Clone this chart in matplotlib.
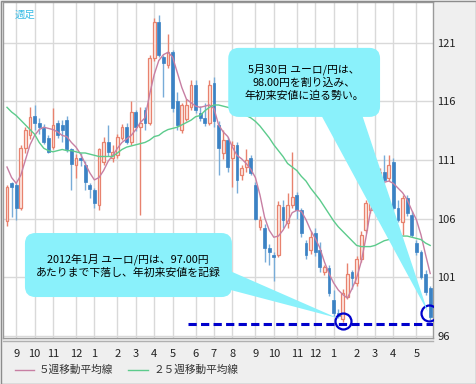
import numpy as np
import pandas as pd
import matplotlib
matplotlib.use("Agg")
import matplotlib.pyplot as plt
from matplotlib.patches import FancyBboxPatch, Polygon, Rectangle
from matplotlib.lines import Line2D

plt.rcParams['font.family'] = ['Noto Sans CJK JP', 'DejaVu Sans']

# 週足 EUR/JPY (2010/8/23 - 2012/5/28)
weeks = pd.date_range('2010-08-23', periods=93, freq='W-MON')

opens = [105.8, 109.0, 108.9, 106.9, 112.0, 113.1, 114.8, 114.2, 113.7, 112.9,
         112.1, 114.2, 114.0, 114.4, 111.9, 110.6, 111.2, 110.6, 108.9, 108.4,
         107.15, 110.8, 112.5, 111.2, 111.4, 112.9, 113.8, 112.5, 115.1, 113.8,
         115.3, 114.2, 119.7, 122.8, 119.8, 119.1, 120.2, 116.0, 113.6, 114.5,
         115.5, 117.4, 115.0, 114.6, 114.2, 117.6, 114.0, 111.6, 112.7, 111.2,
         112.3, 109.7, 110.4, 111.2, 108.9, 105.3, 105.2, 103.5, 102.9, 102.9,
         107.0, 105.6, 107.15, 108.0, 106.7, 103.9, 103.3, 104.8, 103.3, 101.4,
         101.8, 99.0, 97.9, 97.4, 99.3, 101.4, 100.5, 102.5, 105.0, 106.7,
         109.0, 108.9, 110.0, 109.5, 110.8, 106.9, 105.7, 107.75, 106.3, 103.9,
         103.1, 101.3, 100.1]
highs = [108.9, 109.1, 109.0, 112.3, 113.8, 115.5, 115.7, 114.6, 114.1, 113.1,
         115.4, 114.4, 114.4, 114.8, 112.0, 111.5, 111.6, 110.9, 109.0, 108.6,
         112.0, 113.0, 114.0, 112.3, 113.2, 114.1, 114.2, 116.0, 115.3, 115.5,
         115.5, 120.0, 123.1, 123.4, 120.0, 121.8, 120.4, 116.8, 115.9, 116.2,
         117.8, 117.8, 115.6, 115.9, 117.8, 118.1, 114.3, 113.6, 113.0, 112.6,
         112.5, 110.6, 111.9, 111.4, 109.1, 106.2, 105.5, 103.8, 103.1, 107.5,
         107.6, 108.2, 111.7, 108.3, 106.9, 104.2, 104.9, 105.2, 104.0, 102.0,
         102.0, 99.9, 98.3, 100.0, 102.2, 101.6, 102.8, 104.9, 107.6, 109.5,
         110.5, 110.3, 111.4, 111.4, 111.2, 107.6, 108.0, 108.0, 106.6, 104.2,
         103.3, 101.6, 100.2]
lows = [105.4, 106.1, 105.9, 106.7, 111.6, 112.8, 113.6, 113.2, 112.4, 111.6,
        111.9, 112.9, 112.5, 111.7, 108.4, 109.5, 110.5, 108.4, 107.75, 106.9,
        106.7, 110.6, 111.3, 110.8, 111.2, 112.7, 112.4, 112.3, 113.5, 106.3,
        113.6, 114.0, 119.5, 119.8, 116.4, 118.9, 115.1, 113.6, 113.3, 114.3,
        115.3, 115.0, 114.3, 113.9, 114.0, 113.8, 109.7, 111.1, 110.0, 108.7,
        108.2, 109.3, 110.0, 109.7, 105.9, 105.0, 102.3, 102.0, 100.7, 102.7,
        105.2, 105.2, 106.9, 106.0, 104.4, 102.5, 103.0, 102.8, 101.4, 101.2,
        99.4, 97.7, 97.5, 97.15, 99.1, 100.0, 100.2, 102.3, 104.8, 106.5,
        108.5, 108.6, 109.0, 109.2, 106.7, 105.7, 104.6, 106.2, 104.4, 102.9,
        100.8, 99.5, 97.3]
closes = [108.7, 108.7, 106.9, 112.0, 113.6, 114.7, 114.2, 113.8, 112.5, 111.7,
          114.0, 113.1, 113.6, 111.9, 110.7, 111.2, 111.0, 109.1, 108.5, 107.3,
          111.9, 112.5, 111.7, 111.7, 113.0, 113.8, 112.5, 115.1, 113.8, 114.2,
          114.2, 119.7, 122.8, 120.0, 119.3, 120.2, 115.4, 114.0, 115.7, 115.7,
          117.4, 115.3, 114.6, 114.2, 117.4, 114.3, 112.0, 112.7, 110.4, 112.3,
          109.3, 110.3, 111.0, 109.9, 106.0, 105.9, 103.5, 103.1, 102.7, 107.15,
          105.9, 107.15, 107.8, 106.7, 104.8, 102.9, 104.4, 103.1, 101.85, 101.85,
          99.6, 97.9, 97.7, 99.6, 101.3, 100.9, 102.5, 104.6, 107.3, 109.1,
          110.0, 110.0, 109.3, 110.6, 106.9, 105.9, 107.75, 106.5, 104.6, 103.1,
          101.0, 99.7, 97.6]

ma5 = [110.4, 109.5, 109.0, 109.7, 111.0, 112.3, 113.1, 113.6, 113.8, 113.7,
       113.6, 113.4, 113.1, 113.0, 112.5, 112.1, 111.5, 110.7, 109.9, 109.3,
       109.5, 110.1, 110.9, 111.4, 112.0, 112.5, 112.8, 113.1, 113.6, 114.2,
       114.6, 116.6, 118.3, 119.5, 120.0, 120.2, 119.8, 118.5, 117.2, 116.2,
       115.9, 115.6, 115.5, 115.6, 115.7, 115.4, 114.0, 113.4, 113.0, 112.1,
       111.4, 111.1, 110.7, 110.2, 109.5, 108.0, 106.1, 105.0, 104.4, 104.5,
       105.0, 105.7, 106.5, 106.7, 106.6, 105.9, 105.0, 104.3, 103.5, 102.3,
       101.3, 100.5, 99.9, 99.5, 99.2, 100.0, 100.9, 102.3, 104.3, 106.6,
       107.8, 108.6, 109.1, 109.2, 109.0, 108.6, 108.2, 107.6, 106.7, 105.9,
       104.6, 102.9, 101.3]
ma25 = [115.5, 115.1, 114.8, 114.4, 114.0, 113.6, 113.2, 112.5, 112.0, 111.8,
        111.7, 111.8, 111.9, 111.8, 111.8, 111.7, 111.6, 111.6, 111.5, 111.4,
        111.3, 111.3, 111.3, 111.3, 111.6, 111.9, 112.1, 112.2, 112.3, 112.4,
        112.5, 112.7, 113.0, 113.1, 113.4, 113.6, 113.7, 113.8, 114.0, 114.2,
        114.4, 114.7, 114.8, 115.2, 115.5, 115.7, 115.7, 115.6, 115.5, 115.4,
        115.1, 114.9, 114.8, 114.6, 114.3, 113.9, 113.4, 112.9, 112.3, 111.8,
        111.3, 110.7, 110.4, 110.1, 109.6, 109.2, 108.6, 108.1, 107.6, 107.0,
        106.4, 105.8, 105.3, 104.9, 104.5, 104.1, 103.7, 103.6, 103.6, 103.6,
        103.7, 103.9, 104.1, 104.2, 104.4, 104.5, 104.5, 104.5, 104.4, 104.3,
        104.2, 103.9, 103.7]

yticks = [96, 101, 106, 111, 116, 121]
low_line = 97.0
note_top = "5月30日 ユーロ/円は、\n98.00円を割り込み、\n年初来安値に迫る勢い。"
note_bottom = "2012年1月 ユーロ/円は、97.00円\nあたりまで下落し、年初来安値を記録"

W, H = 476, 384
fig = plt.figure(figsize=(W / 100, H / 100), dpi=100, facecolor='#efefef')
ax = fig.add_axes([3 / W, 46 / H, 430 / W, 336 / H])
ax.set_facecolor('white')

x = np.arange(len(opens))
o = np.array(opens); c = np.array(closes)
hi = np.array(highs); lo = np.array(lows)
up = c >= o

# ローソク足
ax.vlines(x[up], lo[up], hi[up], color='#e8826e', lw=1, zorder=2)
ax.vlines(x[~up], lo[~up], hi[~up], color='#78acd8', lw=1, zorder=2)
ax.bar(x[up], (c - o)[up], bottom=o[up], width=0.62, color='#fde8e2',
       edgecolor='#e8826e', linewidth=0.9, zorder=3)
ax.bar(x[~up], (o - c)[~up], bottom=c[~up], width=0.62, color='#3b82c4',
       edgecolor='#3b82c4', linewidth=0.5, zorder=3)

ax.plot(x, ma5, color='#c77fa3', lw=1, zorder=4)
ax.plot(x, ma25, color='#5ccb8c', lw=1, zorder=4)

# 月の区切り
month_idx = [i for i in range(1, len(weeks)) if weeks[i].month != weeks[i - 1].month]
month_lbl = [str(weeks[i].month) for i in month_idx]
ax.set_xticks(month_idx, month_lbl)
ax.set_yticks(yticks, [str(v) for v in yticks])
ax.grid(True, color='#d9d9d9', lw=1, zorder=0)
ax.set_axisbelow(True)
ax.set_xlim(-0.87, 92.61)
ax.set_ylim(95.79, 124.5)
ax.yaxis.tick_right()
ax.tick_params(axis='both', length=0, labelsize=8, colors='#222222')
ax.tick_params(axis='x', pad=8)
ax.tick_params(axis='y', pad=3)
for s in ax.spines.values():
    s.set_color('#9a9a9a')
    s.set_linewidth(1)

# 安値ライン・丸
ax.plot([39.3, 93], [low_line, low_line], color='#0000cc', lw=2.2,
        ls=(0, (2.7, 1.4)), zorder=6, clip_on=True)
ax.plot([73.0, 91.7], [97.24, 97.92], ls='none', marker='o', ms=11.5,
        mfc='none', mec='#0000cc', mew=1.6, zorder=7)

# 吹き出し
asp = 4.6 / 11.7
callout = '#8af1fb'
ax.add_patch(FancyBboxPatch((48.1, 114.68), 33.0, 5.9,
                            boxstyle='round,pad=0,rounding_size=2.3',
                            mutation_aspect=asp, fc=callout, ec='none', zorder=8))
ax.add_patch(Polygon([(67.8, 115.2), (76.9, 115.2), (91.5, 98.0)],
                     closed=True, fc=callout, ec='none', zorder=8))
ax.text(64.6, 117.65, note_top, ha='center', va='center', fontsize=7.8,
        linespacing=1.35, color='black', zorder=9)

ax.add_patch(FancyBboxPatch((3.9, 99.29), 45.0, 5.47,
                            boxstyle='round,pad=0,rounding_size=2.3',
                            mutation_aspect=asp, fc=callout, ec='none', zorder=8))
ax.add_patch(Polygon([(47.0, 101.77), (47.0, 100.06), (71.8, 97.5)],
                     closed=True, fc=callout, ec='none', zorder=8))
ax.text(26.3, 102.0, note_bottom, ha='center', va='center', fontsize=7.8,
        linespacing=1.35, color='black', zorder=9)

ax.text(0.026, 0.977, '週足', transform=ax.transAxes, ha='left', va='top',
        fontsize=7.5, color='#3cbde6')

# 凡例
fig.add_artist(Line2D([15 / W, 34 / W], [1 - 370 / H] * 2, color='#c77fa3', lw=1))
fig.text(39 / W, 1 - 370 / H, '５週移動平均線', fontsize=7.7, va='center', color='#333333')
fig.add_artist(Line2D([128 / W, 148 / W], [1 - 370 / H] * 2, color='#5ccb8c', lw=1))
fig.text(153 / W, 1 - 370 / H, '２５週移動平均線', fontsize=7.7, va='center', color='#333333')

fig.add_artist(Line2D([3 / W, 433 / W], [1 - 341 / H] * 2, color='#b0b0b0', lw=1))
fig.add_artist(Rectangle((0.5 / W, 0.5 / H), 1 - 1 / W, 1 - 1 / H, transform=fig.transFigure,
                         fill=False, ec='#8c8c8c', lw=1))

fig.savefig('out.png', dpi=100, facecolor=fig.get_facecolor())
